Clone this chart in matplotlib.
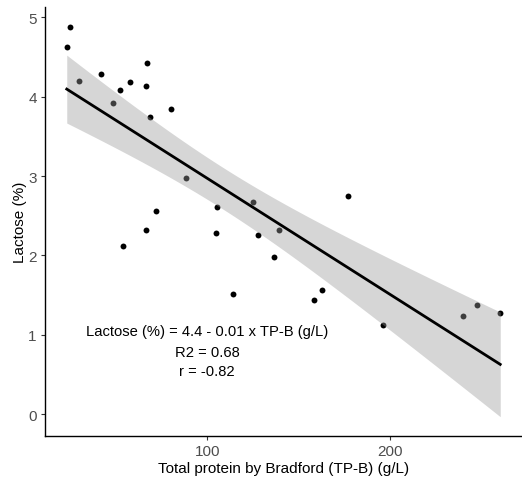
import numpy as np
import matplotlib
matplotlib.use('Agg')
import matplotlib.pyplot as plt

plt.rcParams['font.family'] = ['Liberation Sans', 'DejaVu Sans']

# Total protein by Bradford (g/L) and lactose (%)
tpb = [24.9, 23.2, 30.1, 41.7, 48.3, 52.3, 57.7, 67.1, 66.7, 68.7,
       80.0, 88.5, 72.0, 66.6, 54.0, 105.6, 104.7, 125.2, 127.6, 114.1,
       139.5, 136.8, 177.2, 163.0, 158.7, 196.0, 239.8, 247.7, 260.3]
lactose = [4.88, 4.62, 4.20, 4.29, 3.92, 4.09, 4.19, 4.43, 4.13, 3.74,
           3.85, 2.97, 2.56, 2.32, 2.12, 2.61, 2.28, 2.67, 2.26, 1.52,
           2.32, 1.98, 2.75, 1.57, 1.44, 1.12, 1.24, 1.38, 1.28]

eq_lines = ['Lactose (%) = 4.4 - 0.01 x TP-B (g/L)', 'R2 = 0.68', 'r = -0.82']
eq_x = 100
eq_y = [1.05, 0.79, 0.54]

x = np.array(tpb)
y = np.array(lactose)
n = len(x)

# linear fit with 95% confidence band (like geom_smooth(method='lm'))
slope, intercept = np.polyfit(x, y, 1)
xs = np.linspace(x.min(), x.max(), 200)
ys = intercept + slope * xs
resid = y - (intercept + slope * x)
s = np.sqrt(np.sum(resid ** 2) / (n - 2))
tval = 2.052  # t(0.975, df=27)
se = s * np.sqrt(1.0 / n + (xs - x.mean()) ** 2 / np.sum((x - x.mean()) ** 2))

fig = plt.figure(figsize=(5.22, 4.81), dpi=100)
ax = fig.add_axes([45 / 522, 44.3 / 481, 477 / 522, 428.7 / 481])

ax.scatter(x, y, s=18, color='black', zorder=2, linewidths=0)
ax.fill_between(xs, ys - tval * se, ys + tval * se, color='#999999', alpha=0.4,
                linewidth=0, zorder=3)
ax.plot(xs, ys, color='black', linewidth=2, zorder=4)

for txt, yy in zip(eq_lines, eq_y):
    ax.text(eq_x, yy, txt, ha='center', va='center', fontsize=10.6, color='black', zorder=5)

ax.set_xlim(11.3, 272.2)
ax.set_ylim(-0.27, 5.13)
ax.set_xticks([100, 200])
ax.set_yticks([0, 1, 2, 3, 4, 5])

for side in ['top', 'right']:
    ax.spines[side].set_visible(False)
for side in ['left', 'bottom']:
    ax.spines[side].set_linewidth(1.0)
    ax.spines[side].set_color('black')
ax.tick_params(axis='both', colors='#333333', labelcolor='#4D4D4D', labelsize=11,
               length=3, width=0.8, pad=3)

ax.set_xlabel('Total protein by Bradford (TP-B) (g/L)', fontsize=11, labelpad=2)
ax.set_ylabel('Lactose (%)', fontsize=11, labelpad=1)

fig.savefig('out.png', dpi=100)
